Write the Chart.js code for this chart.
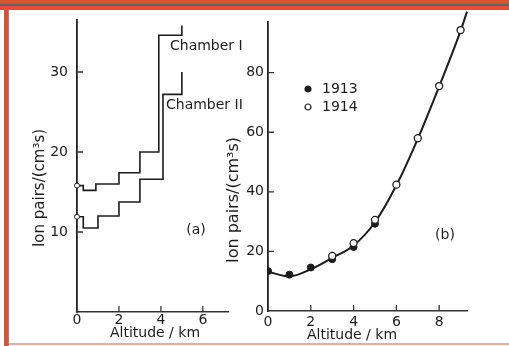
<!DOCTYPE html>
<html>
<head>
<meta charset="utf-8">
<script src="https://cdn.jsdelivr.net/npm/chart.js@4.4.1/dist/chart.umd.min.js"></script>
<style>
  html, body { margin: 0; padding: 0; background: #fff; }
  #page { position: relative; width: 509px; height: 346px; overflow: hidden; background: #fff; }
  #page canvas { position: absolute; left: 0; top: 0; }
  .edge { position: absolute; pointer-events: none; }
  .edge.top { left: 0; top: 0; width: 509px; height: 11px;
    background: linear-gradient(to bottom, #d9552c 0 4px, #5f6470 4px 6px, #ee4a38 6px 10px, rgba(255,255,255,0) 10px); }
  .edge.left { left: 0; top: 0; width: 10px; height: 346px;
    background: linear-gradient(to right, rgba(255,255,255,0) 0 4px, #e0502c 4px 8px, #8a8e96 8px 9px, rgba(255,255,255,0) 9px); }
  .edge.bottom { left: 9px; top: 343px; width: 500px; height: 2px; background: #f2a896; }
</style>
</head>
<body>
<div id="page">
  <canvas id="panelA" width="509" height="346"></canvas>
  <canvas id="panelB" width="509" height="346"></canvas>
  <div class="edge left"></div>
  <div class="edge top"></div>
  <div class="edge bottom"></div>
</div>
<script>
// (a) step curves of the two ionisation chambers
const altChamberI   = [0, 0.3, 0.9, 2, 3, 3.9, 5];
const rateChamberI  = [15.8, 15.2, 16.0, 17.4, 20.0, 34.6, 35.8];
const altChamberII  = [0, 0.3, 1, 2, 3, 4.1, 5];
const rateChamberII = [11.9, 10.5, 12.0, 13.75, 16.6, 27.2, 30.0];
const ticksAx = [0, 2, 4, 6];
const ticksAy = [10, 20, 30];

// (b) balloon flights 1913 / 1914 and the fitted curve
const alt1913   = [0, 1, 2, 3, 4, 5];
const rate1913  = [13.4, 12.2, 14.6, 17.4, 21.5, 29.3];
const alt1914   = [3, 4, 5, 6, 7, 8, 9];
const rate1914  = [18.5, 22.8, 30.6, 42.4, 58.0, 75.5, 94.3];
const altCurve  = [0, 1, 2, 3, 4, 5, 6, 7, 8, 9, 9.3];
const rateCurve = [13.2, 11.6, 14.0, 17.8, 22.0, 29.8, 42.2, 57.8, 75.4, 94.0, 100.5];
const ticksBx = [0, 2, 4, 6, 8];
const ticksBy = [0, 20, 40, 60, 80];

const INK = '#1c1c1c';
const FONT = '"DejaVu Sans", sans-serif';

const pts = (xs, ys) => xs.map((x, i) => ({ x, y: ys[i] }));

// short tick marks drawn on the inner side of both axes
const inwardTicks = {
    id: 'inwardTicks',
    afterDatasetsDraw(chart) {
        const { ctx, chartArea: a, scales: { x, y } } = chart;
        ctx.save();
        ctx.strokeStyle = '#333';
        ctx.lineWidth = 1.3;
        ctx.beginPath();
        x.ticks.forEach(t => {
            if (t.value === 0) return;
            const px = x.getPixelForValue(t.value);
            ctx.moveTo(px, a.bottom);
            ctx.lineTo(px, a.bottom - 6);
        });
        y.ticks.forEach(t => {
            if (t.value === 0) return;
            const py = y.getPixelForValue(t.value);
            ctx.moveTo(a.left, py);
            ctx.lineTo(a.left + 6, py);
        });
        ctx.stroke();
        ctx.restore();
    },
};

// free text (titles, panel letters, legend) in page pixels
function notes(items) {
    return {
        id: 'notes',
        afterDraw(chart) {
            const ctx = chart.ctx;
            items.forEach(n => {
                ctx.save();
                ctx.translate(n.x, n.y);
                if (n.marker) {
                    ctx.beginPath();
                    ctx.arc(0, 0, 3, 0, Math.PI * 2);
                    ctx.fillStyle = n.marker === 'filled' ? INK : '#fff';
                    ctx.fill();
                    ctx.lineWidth = 1.2;
                    ctx.strokeStyle = INK;
                    ctx.stroke();
                } else {
                    if (n.rotate) ctx.rotate(n.rotate);
                    ctx.font = (n.size || 14) + 'px ' + FONT;
                    ctx.fillStyle = INK;
                    ctx.textAlign = n.align || 'left';
                    ctx.textBaseline = 'middle';
                    ctx.fillText(n.text, 0, 0);
                }
                ctx.restore();
            });
        },
    };
}

function axes(xMax, yMax, xTicks, yTicks, yWidth, xHeight, yPad, xPad) {
    const tickFont = { family: FONT, size: 14 };
    return {
        x: {
            type: 'linear', min: 0, max: xMax,
            afterBuildTicks: s => { s.ticks = xTicks.map(v => ({ value: v })); },
            afterFit: s => { s.height = xHeight; },
            grid: { display: false, drawTicks: false },
            border: { display: true, color: '#333', width: 1.5 },
            ticks: { color: INK, font: tickFont, padding: xPad, maxRotation: 0 },
        },
        y: {
            type: 'linear', min: 0, max: yMax,
            afterBuildTicks: s => { s.ticks = yTicks.map(v => ({ value: v })); },
            afterFit: s => { s.width = yWidth; },
            grid: { display: false, drawTicks: false },
            border: { display: true, color: '#222', width: 1.8 },
            ticks: { color: INK, font: tickFont, padding: yPad },
        },
    };
}

const base = {
    responsive: false,
    animation: false,
    plugins: { legend: { display: false }, tooltip: { enabled: false } },
};

const stepLine = {
    stepped: 'before',
    borderColor: INK, borderWidth: 1.6,
    pointRadius: c => (c.dataIndex === 0 ? 2.5 : 0),
    pointBackgroundColor: '#fff', pointBorderColor: INK, pointBorderWidth: 1,
    clip: false,
};

new Chart(document.getElementById('panelA'), {
    type: 'line',
    data: {
        datasets: [
            { label: 'Chamber I', data: pts(altChamberI, rateChamberI), ...stepLine },
            { label: 'Chamber II', data: pts(altChamberII, rateChamberII), ...stepLine },
        ],
    },
    options: {
        ...base,
        layout: { padding: { left: 0, top: 20, right: 281, bottom: 0 } },
        scales: axes(7.2, 36.5, ticksAx, ticksAy, 77, 34, 9, 0),
    },
    plugins: [inwardTicks, notes([
        { text: 'Ion pairs/(cm³s)', x: 40, y: 188, rotate: -Math.PI / 2, align: 'center', size: 15 },
        { text: 'Altitude / km', x: 155, y: 333, align: 'center' },
        { text: 'Chamber I', x: 170, y: 46 },
        { text: 'Chamber II', x: 166, y: 105 },
        { text: '(a)', x: 196, y: 230, align: 'center' },
    ])],
});

new Chart(document.getElementById('panelB'), {
    type: 'line',
    data: {
        datasets: [
            {
                label: '1914',
                data: pts(alt1914, rate1914),
                showLine: false,
                pointRadius: 3.5,
                pointBackgroundColor: '#fff', pointBorderColor: INK, pointBorderWidth: 1.3,
            },
            {
                label: '1913',
                data: pts(alt1913, rate1913),
                showLine: false,
                pointRadius: 3.5,
                pointBackgroundColor: INK, pointBorderColor: INK, pointBorderWidth: 1,
            },
            {
                label: 'fit',
                data: pts(altCurve, rateCurve),
                cubicInterpolationMode: 'monotone',
                borderColor: INK, borderWidth: 2,
                pointRadius: 0,
                clip: false,
            },
        ],
    },
    options: {
        ...base,
        layout: { padding: { left: 215, top: 22, right: 42, bottom: 0 } },
        scales: axes(9.3, 97, ticksBx, ticksBy, 53, 35, 4, 3),
    },
    plugins: [inwardTicks, notes([
        { text: 'Ion pairs/(cm³s)', x: 234, y: 200, rotate: -Math.PI / 2, align: 'center', size: 16 },
        { text: 'Altitude / km', x: 352, y: 335, align: 'center' },
        { marker: 'filled', x: 308, y: 89 },
        { text: '1913', x: 322, y: 89 },
        { marker: 'open', x: 308, y: 107 },
        { text: '1914', x: 322, y: 107 },
        { text: '(b)', x: 445, y: 235, align: 'center' },
    ])],
});
</script>
</body>
</html>
